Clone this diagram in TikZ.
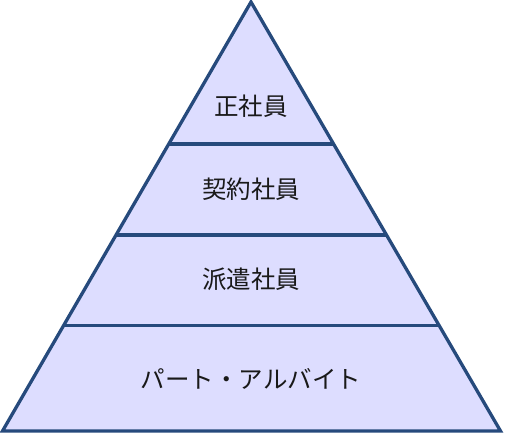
\documentclass[tikz,border=0pt]{standalone}
\usepackage{fontspec}
\newfontfamily\cjk{Noto Sans CJK JP}
\usetikzlibrary{calc}
\definecolor{edge}{HTML}{264A7C}
\definecolor{fillc}{HTML}{DDDDFF}
\begin{document}
\begin{tikzpicture}[x=1pt,y=-1pt,
  layerline/.style={draw=edge,line width=3.3pt},
  lbl/.style={font=\cjk\fontsize{24.5}{28}\selectfont,text=black!90}]
\useasboundingbox (0,0) rectangle (506,446);
\coordinate (A) at (251,2);
\coordinate (L) at (2.5,431);
\coordinate (R) at (500.5,431);
\fill[fillc] (L) -- (R) -- (A) -- cycle;
\coordinate (l1) at ($(L)!0.669!(A)$);
\coordinate (r1) at ($(R)!0.669!(A)$);
\coordinate (l2) at ($(L)!0.457!(A)$);
\coordinate (r2) at ($(R)!0.457!(A)$);
\coordinate (l3) at ($(L)!0.2455!(A)$);
\coordinate (r3) at ($(R)!0.2455!(A)$);
\draw[layerline] (l1) -- (r1);
\draw[layerline] (l2) -- (r2);
\draw[layerline] (l3) -- (r3);
\draw[layerline,line join=miter] (L) -- (R) -- (A) -- cycle;
\node[lbl] (t1) at (251,106) {正社員};
\node[lbl] (t2) at (251,189) {契約社員};
\node[lbl] (t3) at (251,279) {派遣社員};
\node[lbl] (t4) at (251,379) {パート・アルバイト};
\end{tikzpicture}
\end{document}
